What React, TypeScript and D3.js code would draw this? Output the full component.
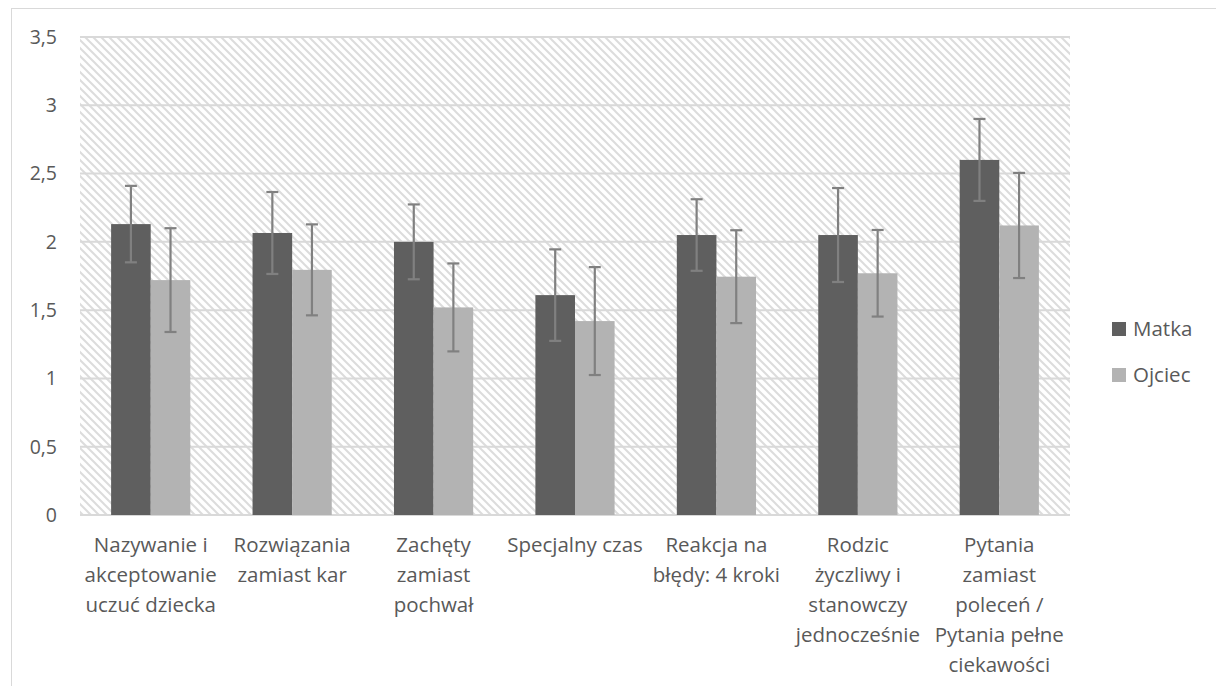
import React from "react";
import * as d3 from "d3";

const categories: string[][] = [
  ["Nazywanie i", "akceptowanie", "uczuć dziecka"],
  ["Rozwiązania", "zamiast kar"],
  ["Zachęty", "zamiast", "pochwał"],
  ["Specjalny czas"],
  ["Reakcja na", "błędy: 4 kroki"],
  ["Rodzic", "życzliwy i", "stanowczy", "jednocześnie"],
  ["Pytania", "zamiast", "poleceń /", "Pytania pełne", "ciekawości"],
];
const seriesNames = ["Matka", "Ojciec"];
const matka = [2.13, 2.065, 2.0, 1.61, 2.05, 2.05, 2.6];
const ojciec = [1.72, 1.795, 1.52, 1.42, 1.745, 1.77, 2.12];
const matkaErr = [0.28, 0.3, 0.274, 0.335, 0.262, 0.344, 0.3];
const ojciecErr = [0.38, 0.333, 0.322, 0.395, 0.34, 0.317, 0.385];
const yTicks = [0, 0.5, 1, 1.5, 2, 2.5, 3, 3.5];
const colors = ["#5f5f5f", "#b3b3b3"];

const FONT = "'Open Sans', Lato, sans-serif";
const FS = 20.5;

export default function App() {
  const left = 80, right = 1070, top = 37, bottom = 515;
  const x = d3.scaleBand<number>().domain(d3.range(categories.length)).range([left, right]).padding(0);
  const y = d3.scaleLinear().domain([0, 3.5]).range([bottom, top]);
  const step = x.bandwidth();
  const barW = step * 0.28;
  const series = [matka, ojciec];
  const errs = [matkaErr, ojciecErr];
  const fmt = (v: number) => String(v).replace(".", ",");

  return (
    <svg width={1216} height={686} style={{ position: "absolute", left: 0, top: 0, background: "#fff" }} fontFamily={FONT}>
      <defs>
        <pattern id="hatch" width={8} height={8} patternUnits="userSpaceOnUse">
          <rect width={8} height={8} fill="#ffffff" />
          <path d="M-2,-2 L10,10 M-2,6 L2,10 M6,-2 L10,2" stroke="#dcdcdc" strokeWidth={2} />
        </pattern>
      </defs>
      <rect x={11.5} y={8.5} width={1220} height={700} fill="#fff" stroke="#d9d9d9" strokeWidth={1} />
      <rect x={left} y={top} width={right - left} height={bottom - top} fill="url(#hatch)" />
      {yTicks.map((t) => (
        <g key={t}>
          <line x1={left} x2={right} y1={y(t)} y2={y(t)} stroke="#d9d9d9" strokeWidth={2} />
          <text x={57} y={y(t)} dy="0.35em" textAnchor="end" fontSize={19.5} fill="#595959">
            {fmt(t)}
          </text>
        </g>
      ))}
      {series.map((vals, s) =>
        vals.map((v, i) => {
          const cx = x(i)! + step / 2;
          const bx = cx - barW + s * barW;
          return (
            <rect key={`b${s}-${i}`} x={bx} y={y(v)} width={barW} height={y(0) - y(v)} fill={colors[s]} />
          );
        })
      )}
      {series.map((vals, s) =>
        vals.map((v, i) => {
          const cx = x(i)! + step / 2;
          const ex = cx - barW + s * barW + barW / 2;
          const e = errs[s][i];
          return (
            <g key={`e${s}-${i}`} stroke="#808080" strokeWidth={2.2}>
              <line x1={ex} x2={ex} y1={y(v + e)} y2={y(v - e)} />
              <line x1={ex - 6} x2={ex + 6} y1={y(v + e)} y2={y(v + e)} />
              <line x1={ex - 6} x2={ex + 6} y1={y(v - e)} y2={y(v - e)} />
            </g>
          );
        })
      )}
      {categories.map((lines, i) => (
        <text key={`c${i}`} textAnchor="middle" fontSize={FS} fill="#595959">
          {lines.map((ln, j) => (
            <tspan key={j} x={x(i)! + step / 2} y={552 + j * 30}>
              {ln}
            </tspan>
          ))}
        </text>
      ))}
      {seriesNames.map((n, s) => (
        <g key={n} transform={`translate(1112, ${322 + s * 46})`}>
          <rect width={14} height={14} fill={colors[s]} />
          <text x={21} y={7} dy="0.35em" fontSize={FS} fill="#595959">
            {n}
          </text>
        </g>
      ))}
    </svg>
  );
}
